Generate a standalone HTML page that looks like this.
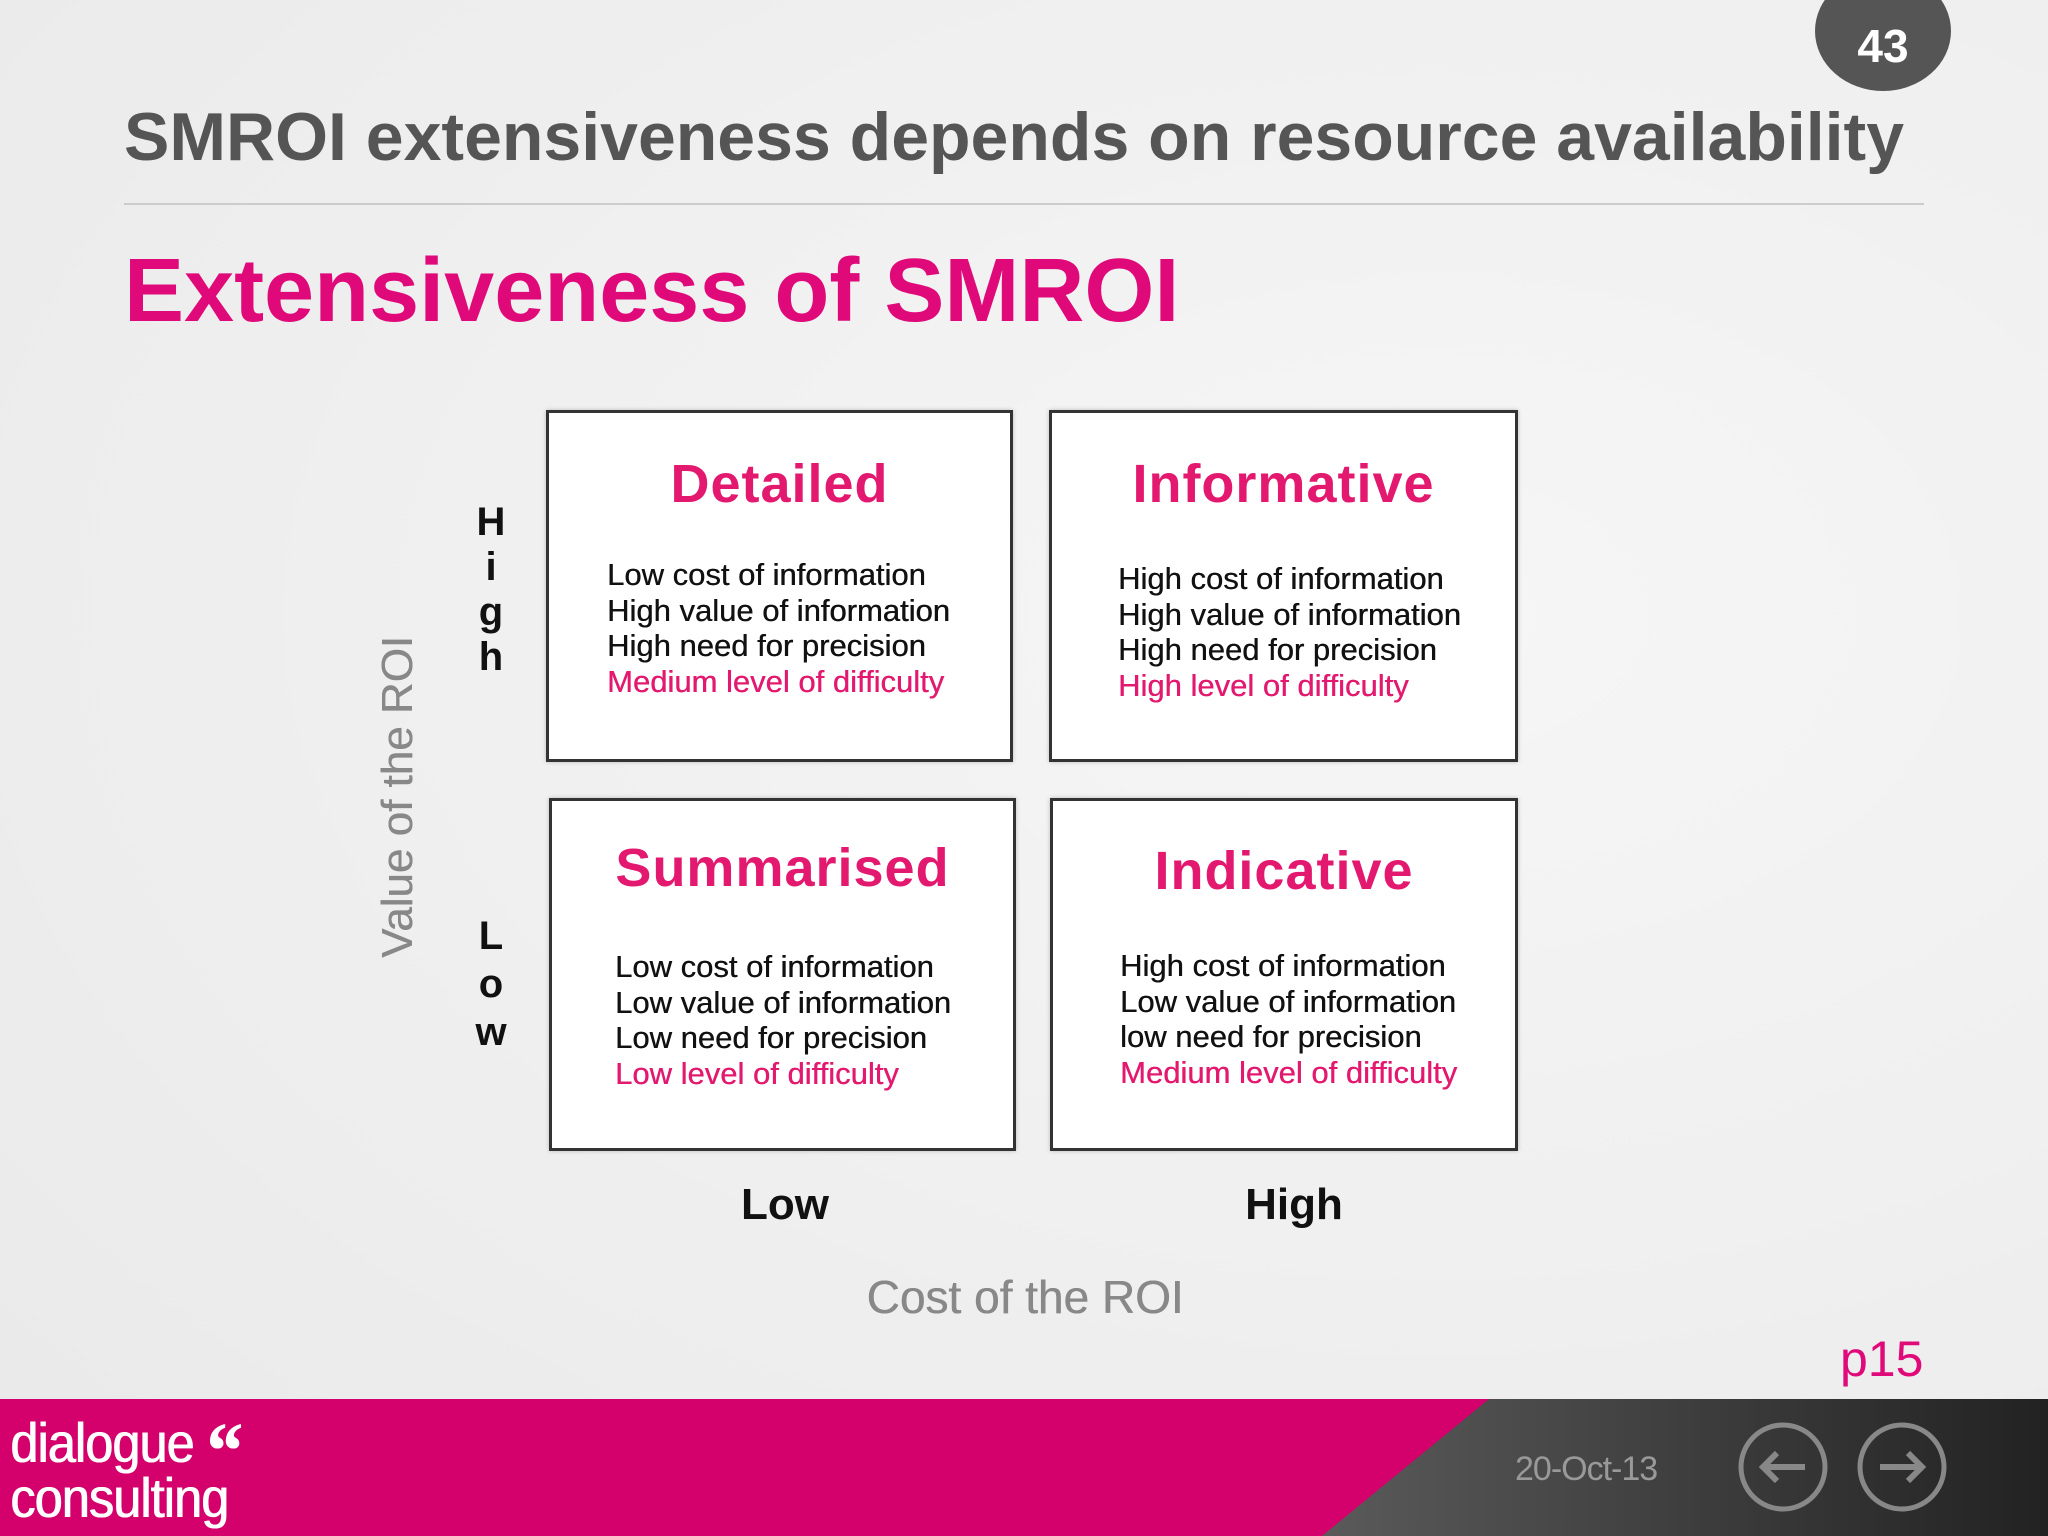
<!DOCTYPE html>
<html><head><meta charset="utf-8"><style>
body{margin:0;width:2048px;height:1536px;overflow:hidden;background:radial-gradient(ellipse at 70% 40%,#f6f6f6,#e9e9e9);font-family:"Liberation Sans",sans-serif;position:relative}
div,span{position:absolute}
.box{background:#fff;border:3px solid #333;box-sizing:border-box;box-shadow:0 0 4px #bbb}
.bt{position:absolute;left:0;right:0;text-align:center;color:#e3186f;font-size:54px;font-weight:bold;letter-spacing:1px}
.bl{position:absolute;font-size:31px;line-height:35.5px;color:#111;white-space:nowrap;font-weight:normal;text-shadow:0.4px 0 0 currentColor}
.pk{color:#e3186f}
.lt{font-size:40px;font-weight:bold;color:#111;width:40px;text-align:center;left:471px}
</style></head><body>
<div style="left:1815px;top:-29px;width:136px;height:120px;border-radius:50%;background:#555;color:#fff;font-weight:bold;font-size:46px;text-align:center;line-height:150px">43</div>
<div style="left:124px;top:98px;font-size:68px;font-weight:bold;color:#555;white-space:nowrap">SMROI extensiveness depends on resource availability</div>
<div style="left:124px;top:203px;width:1800px;height:2px;background:#ccc"></div>
<div style="left:124px;top:240px;font-size:90px;font-weight:bold;color:#e0097a;white-space:nowrap">Extensiveness of SMROI</div>

<div class="box" style="left:546px;top:410px;width:467px;height:352px">
 <div class="bt" style="top:40px">Detailed</div>
 <div class="bl" style="left:58px;top:144px">Low cost of information<br>High value of information<br>High need for precision<br><span class="pk" style="position:static">Medium level of difficulty</span></div>
</div>
<div class="box" style="left:1049px;top:410px;width:469px;height:352px">
 <div class="bt" style="top:40px">Informative</div>
 <div class="bl" style="left:66px;top:148px">High cost of information<br>High value of information<br>High need for precision<br><span class="pk" style="position:static">High level of difficulty</span></div>
</div>
<div class="box" style="left:549px;top:798px;width:467px;height:353px">
 <div class="bt" style="top:36px">Summarised</div>
 <div class="bl" style="left:63px;top:148px">Low cost of information<br>Low value of information<br>Low need for precision<br><span class="pk" style="position:static">Low level of difficulty</span></div>
</div>
<div class="box" style="left:1050px;top:798px;width:468px;height:353px">
 <div class="bt" style="top:39px">Indicative</div>
 <div class="bl" style="left:67px;top:147px">High cost of information<br>Low value of information<br>low need for precision<br><span class="pk" style="position:static">Medium level of difficulty</span></div>
</div>

<div class="lt" style="top:500px;line-height:45px">H<br>i<br>g<br>h</div>
<div class="lt" style="top:912px;line-height:48px">L<br>o<br>w</div>
<div style="left:398px;top:797px;transform:translate(-50%,-50%) rotate(-90deg);font-size:44px;color:#888;white-space:nowrap;text-shadow:0.5px 0 0 #888">Value of the ROI</div>
<div style="left:785px;top:1180px;transform:translateX(-50%);font-size:44px;font-weight:bold;color:#111">Low</div>
<div style="left:1294px;top:1180px;transform:translateX(-50%);font-size:44px;font-weight:bold;color:#111">High</div>
<div style="left:1025px;top:1270px;transform:translateX(-50%);font-size:46px;color:#888;white-space:nowrap;text-shadow:0.5px 0 0 #888">Cost of the ROI</div>
<div style="left:1840px;top:1330px;font-size:50px;color:#e0097a">p15</div>

<svg style="position:absolute;left:0;top:1399px" width="2048" height="137">
 <defs><linearGradient id="g" x1="0" x2="1"><stop offset="0" stop-color="#5a5a5a"/><stop offset="1" stop-color="#222"/></linearGradient></defs>
 <rect width="2048" height="137" fill="#d4006b"/>
 <polygon points="1489,0 2048,0 2048,137 1322,137" fill="url(#g)"/>
 <circle cx="1783" cy="68" r="42" fill="none" stroke="#888" stroke-width="5"/>
 <path d="M1805 68H1763M1777 54L1763 68L1777 82" fill="none" stroke="#888" stroke-width="6"/>
 <circle cx="1902" cy="68" r="42" fill="none" stroke="#888" stroke-width="5"/>
 <path d="M1880 68H1922M1908 54L1922 68L1908 82" fill="none" stroke="#888" stroke-width="6"/>
</svg>
<div style="left:10px;top:1420px;color:#fff;font-size:56px;line-height:46px;transform:scaleX(0.9);transform-origin:left;letter-spacing:-1px;text-shadow:1px 0 0 #fff;white-space:nowrap">dialogue <b style="font-family:'Liberation Serif',serif;font-size:80px;vertical-align:-16px">&#8220;</b><br>consulting</div>
<div style="left:1515px;top:1450px;font-size:34px;color:#999;letter-spacing:-1px">20-Oct-13</div>
</body></html>
